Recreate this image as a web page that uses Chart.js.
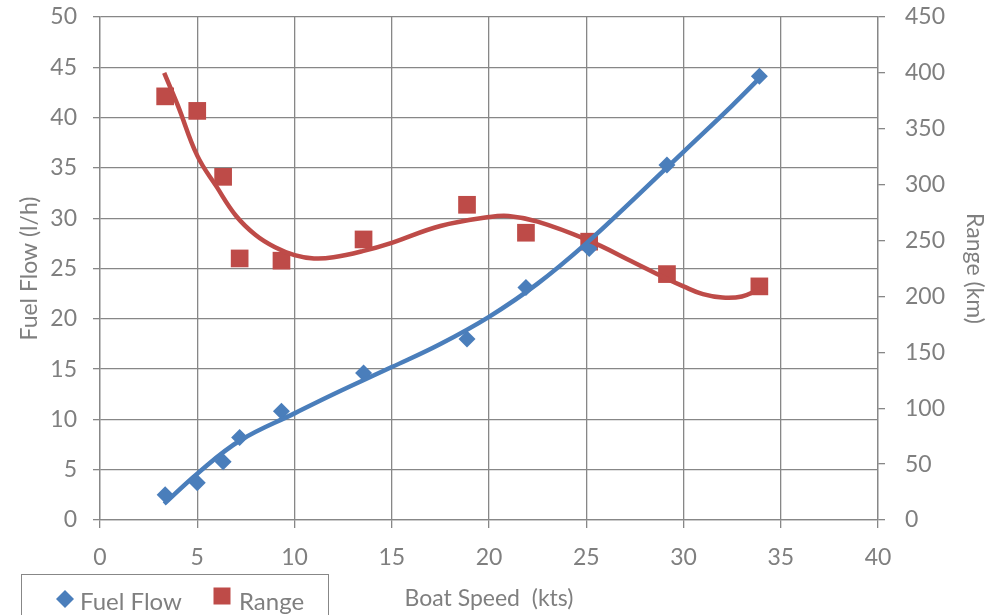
<!DOCTYPE html>
<html>
<head>
<meta charset="utf-8">
<script src="https://cdn.jsdelivr.net/npm/chart.js@4.4.1/dist/chart.umd.min.js"></script>
<style>
  html, body { margin: 0; padding: 0; background: #ffffff; }
  #wrap { width: 1004px; height: 615px; }
</style>
</head>
<body>
<div id="wrap"><canvas id="c" width="1004" height="615"></canvas></div>
<script>
// ---- data ----
const speeds = [3.35, 5.0, 6.33, 7.18, 9.33, 13.55, 18.87, 21.9, 25.15, 29.15, 33.9];
const fuelFlow = [2.5, 3.7, 5.8, 8.2, 10.8, 14.6, 18.0, 23.1, 27.0, 35.3, 44.1];
const rangeKm = [379, 366, 307, 234, 232, 251, 282, 257, 249, 220, 209];

// trendlines
const fuelTrendX = [3.3, 5, 7.2, 10, 12, 15, 17.5, 20, 22.5, 25, 27.5, 30, 32.5, 34];
const fuelTrendY = [1.6, 4.6, 7.9, 10.6, 12.5, 15.2, 17.5, 20.2, 23.5, 27.5, 32.0, 36.6, 41.2, 44.1];
const rangeTrendX = [3.3, 4, 5, 6, 7, 8, 9, 10, 11, 12, 13.5, 15, 17.5, 20, 21, 22.5, 25, 27.5, 29, 30, 31, 32, 33, 34];
const rangeTrendY = [400, 371, 326, 298, 272, 255, 244, 237, 234, 235, 240.5, 248, 263, 271, 272, 267, 251, 230, 217, 209, 202, 199, 200, 207];

const xTicks = [0, 5, 10, 15, 20, 25, 30, 35, 40];
const yLeftTicks = [0, 5, 10, 15, 20, 25, 30, 35, 40, 45, 50];
const yRightTicks = [0, 50, 100, 150, 200, 250, 300, 350, 400, 450];

const seriesNames = ['Fuel Flow', 'Range'];
const axisTitles = { x: 'Boat Speed  (kts)', y: 'Fuel Flow (l/h)', y2: 'Range (km)' };

// ---- styling ----
const BLUE = '#4a7ebb';
const RED = '#be4b48';
const GRID = '#878787';
const TEXT = '#7f7f7f';
const FONT = 'Lato, "Open Sans", sans-serif';

const pairs = (xs, ys) => xs.map((x, i) => ({ x: x, y: ys[i] }));

const legendPlugin = {
  id: 'boxLegend',
  afterDraw(chart) {
    const ctx = chart.ctx;
    ctx.save();
    ctx.strokeStyle = GRID;
    ctx.lineWidth = 1;
    ctx.strokeRect(21.5, 574.5, 307, 60);
    // diamond
    ctx.fillStyle = BLUE;
    ctx.beginPath();
    ctx.moveTo(65, 590); ctx.lineTo(74, 599); ctx.lineTo(65, 608); ctx.lineTo(56, 599);
    ctx.closePath(); ctx.fill();
    // square
    ctx.fillStyle = RED;
    ctx.fillRect(213.5, 587.5, 17, 17);
    ctx.fillStyle = TEXT;
    ctx.font = '24px ' + FONT;
    ctx.textBaseline = 'alphabetic';
    ctx.textAlign = 'left';
    ctx.fillText(seriesNames[0], 80, 610);
    ctx.fillText(seriesNames[1], 239, 610);
    ctx.restore();
  }
};

const tickFont = { family: FONT, size: 23 };
const titleFont = { family: FONT, size: 23 };

new Chart(document.getElementById('c'), {
  type: 'scatter',
  data: {
    datasets: [
      {
        label: seriesNames[0] + ' trend',
        data: pairs(fuelTrendX, fuelTrendY),
        yAxisID: 'y',
        showLine: true,
        borderColor: BLUE,
        borderWidth: 4.5,
        pointRadius: 0,
        tension: 0.4,
        order: 0
      },
      {
        label: seriesNames[1] + ' trend',
        data: pairs(rangeTrendX, rangeTrendY),
        yAxisID: 'y2',
        showLine: true,
        borderColor: RED,
        borderWidth: 4.5,
        pointRadius: 0,
        tension: 0.4,
        order: 0
      },
      {
        label: seriesNames[0],
        data: pairs(speeds, fuelFlow),
        yAxisID: 'y',
        showLine: false,
        pointStyle: 'rectRot',
        pointRadius: 8.5,
        pointBorderWidth: 0,
        backgroundColor: BLUE,
        borderColor: BLUE,
        order: 1
      },
      {
        label: seriesNames[1],
        data: pairs(speeds, rangeKm),
        yAxisID: 'y2',
        showLine: false,
        pointStyle: 'rect',
        pointRadius: 12.5,
        pointBorderWidth: 0,
        backgroundColor: RED,
        borderColor: RED,
        order: 1
      }
    ]
  },
  options: {
    responsive: false,
    animation: false,
    events: [],
    layout: { padding: { top: 17, left: 0, right: 0, bottom: 0 } },
    plugins: { legend: { display: false }, tooltip: { enabled: false } },
    scales: {
      x: {
        type: 'linear',
        position: 'bottom',
        min: 0, max: 40,
        afterBuildTicks(s) { s.ticks = xTicks.map(v => ({ value: v })); },
        afterFit(s) { s.height = 95; s.paddingLeft = 0; s.paddingRight = 0; },
        ticks: { color: TEXT, font: tickFont, padding: 16, maxRotation: 0 },
        grid: { color: GRID, lineWidth: 1.3, tickLength: 8, drawTicks: true },
        border: { display: true, color: GRID, width: 1.3 },
        title: { display: true, text: axisTitles.x, color: TEXT, font: titleFont, padding: { top: 0, bottom: 3 } }
      },
      y: {
        type: 'linear',
        position: 'left',
        min: 0, max: 50,
        afterBuildTicks(s) { s.ticks = yLeftTicks.map(v => ({ value: v })); },
        afterFit(s) { s.width = 100; s.paddingTop = 0; s.paddingBottom = 0; },
        ticks: { color: TEXT, font: tickFont, padding: 16 },
        grid: { color: GRID, lineWidth: 1.3, tickLength: 7, drawTicks: true },
        border: { display: true, color: GRID, width: 1.3 },
        title: { display: true, text: axisTitles.y, color: TEXT, font: titleFont, padding: { top: 16, bottom: 0 } }
      },
      y2: {
        type: 'linear',
        position: 'right',
        min: 0, max: 450,
        afterBuildTicks(s) { s.ticks = yRightTicks.map(v => ({ value: v })); },
        afterFit(s) { s.width = 126; s.paddingTop = 0; s.paddingBottom = 0; },
        ticks: { color: TEXT, font: tickFont, padding: 20 },
        grid: { color: GRID, lineWidth: 1.3, tickLength: 7, drawTicks: true, drawOnChartArea: false },
        border: { display: true, color: GRID, width: 1.3 },
        title: { display: true, text: axisTitles.y2, color: TEXT, font: titleFont, padding: { top: 16, bottom: 0 } }
      }
    }
  },
  plugins: [legendPlugin]
});
</script>
</body>
</html>
